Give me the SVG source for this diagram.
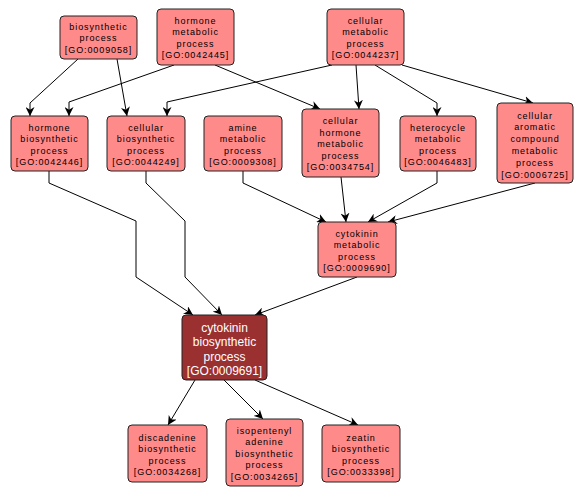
<svg xmlns="http://www.w3.org/2000/svg" width="587" height="497" viewBox="0 0 587 497">
<style>
.n rect{fill:#ff8a8a;stroke:#222;stroke-width:1}
.n text{font-family:"Liberation Sans",Arial,sans-serif;font-size:9px;letter-spacing:0.9px;fill:#000;text-anchor:middle}
.m rect{fill:#9a3030;stroke:#222;stroke-width:1}
.m text{font-family:"Liberation Sans",Arial,sans-serif;font-size:12px;fill:#fff;text-anchor:middle}
.e path{fill:none;stroke:#000;stroke-width:1;marker-end:url(#a)}
</style>
<defs>
<marker id="a" viewBox="0 0 10 10" refX="10" refY="5" markerWidth="9" markerHeight="9" markerUnits="userSpaceOnUse" orient="auto">
<path d="M0,0 L10,5 L0,10 L3,5 z" fill="#000"/>
</marker>
</defs>
<rect width="587" height="497" fill="#fff"/>
<g class="e" id="edges">
<path d="M78,59 L30,103 L30,116"/>
<path d="M117,59 L127,116"/>
<path d="M174,65 L69,102 L69,116"/>
<path d="M332,65 L167,102 L167,116"/>
<path d="M215,65 L320,109"/>
<path d="M356,65 L359,109"/>
<path d="M375,65 L437,103 L437,116"/>
<path d="M402,65 L533,103"/>
<path d="M49,171 L49,183 L136,221 L136,277 L193,315"/>
<path d="M146,171 L146,183 L185,221 L185,277 L222,315"/>
<path d="M243,171 L243,183 L326,222"/>
<path d="M341,177 L346,222"/>
<path d="M437,171 L437,183 L368,222"/>
<path d="M535,183 L388,222"/>
<path d="M357,277 L255,315"/>
<path d="M195,380 L168,425"/>
<path d="M224,380 L263,419"/>
<path d="M255,380 L358,425"/>
</g>
<g class="n" id="GO0009058">
<rect x="60" y="16" width="77" height="43" rx="4"/>
<text x="98.5" y="29.5">biosynthetic</text>
<text x="98.5" y="41">process</text>
<text x="98.5" y="52.5">[GO:0009058]</text>
</g>
<g class="n" id="GO0042445">
<rect x="157" y="9" width="77" height="56" rx="4"/>
<text x="195.5" y="23.5">hormone</text>
<text x="195.5" y="35">metabolic</text>
<text x="195.5" y="46.5">process</text>
<text x="195.5" y="58">[GO:0042445]</text>
</g>
<g class="n" id="GO0044237">
<rect x="327" y="9" width="77" height="56" rx="4"/>
<text x="365.5" y="23.5">cellular</text>
<text x="365.5" y="35">metabolic</text>
<text x="365.5" y="46.5">process</text>
<text x="365.5" y="58">[GO:0044237]</text>
</g>
<g class="n" id="GO0042446">
<rect x="11" y="116" width="77" height="55" rx="4"/>
<text x="49.5" y="130.5">hormone</text>
<text x="49.5" y="142">biosynthetic</text>
<text x="49.5" y="153.5">process</text>
<text x="49.5" y="165">[GO:0042446]</text>
</g>
<g class="n" id="GO0044249">
<rect x="107" y="116" width="78" height="55" rx="4"/>
<text x="146" y="130.5">cellular</text>
<text x="146" y="142">biosynthetic</text>
<text x="146" y="153.5">process</text>
<text x="146" y="165">[GO:0044249]</text>
</g>
<g class="n" id="GO0009308">
<rect x="204" y="116" width="78" height="55" rx="4"/>
<text x="243" y="130.5">amine</text>
<text x="243" y="142">metabolic</text>
<text x="243" y="153.5">process</text>
<text x="243" y="165">[GO:0009308]</text>
</g>
<g class="n" id="GO0034754">
<rect x="302" y="109" width="77" height="68" rx="4"/>
<text x="340.5" y="124">cellular</text>
<text x="340.5" y="135.5">hormone</text>
<text x="340.5" y="147">metabolic</text>
<text x="340.5" y="158.5">process</text>
<text x="340.5" y="170">[GO:0034754]</text>
</g>
<g class="n" id="GO0046483">
<rect x="400" y="116" width="76" height="55" rx="4"/>
<text x="438" y="130.5">heterocycle</text>
<text x="438" y="142">metabolic</text>
<text x="438" y="153.5">process</text>
<text x="438" y="165">[GO:0046483]</text>
</g>
<g class="n" id="GO0006725">
<rect x="497" y="103" width="76" height="80" rx="4"/>
<text x="535" y="118.5">cellular</text>
<text x="535" y="130.3">aromatic</text>
<text x="535" y="142.1">compound</text>
<text x="535" y="153.9">metabolic</text>
<text x="535" y="165.7">process</text>
<text x="535" y="177.5">[GO:0006725]</text>
</g>
<g class="n" id="GO0009690">
<rect x="318" y="222" width="78" height="55" rx="4"/>
<text x="357" y="236.5">cytokinin</text>
<text x="357" y="248">metabolic</text>
<text x="357" y="259.5">process</text>
<text x="357" y="271">[GO:0009690]</text>
</g>
<g class="m" id="GO0009691">
<rect x="182" y="315" width="85" height="65" rx="4"/>
<text x="224.5" y="331.5">cytokinin</text>
<text x="224.5" y="346">biosynthetic</text>
<text x="224.5" y="360.5">process</text>
<text x="224.5" y="375">[GO:0009691]</text>
</g>
<g class="n" id="GO0034268">
<rect x="128" y="425" width="79" height="57" rx="4"/>
<text x="167.5" y="440.5">discadenine</text>
<text x="167.5" y="452">biosynthetic</text>
<text x="167.5" y="463.5">process</text>
<text x="167.5" y="475">[GO:0034268]</text>
</g>
<g class="n" id="GO0034265">
<rect x="226" y="419" width="77" height="67" rx="4"/>
<text x="264.5" y="433.5">isopentenyl</text>
<text x="264.5" y="445">adenine</text>
<text x="264.5" y="456.5">biosynthetic</text>
<text x="264.5" y="468">process</text>
<text x="264.5" y="479.5">[GO:0034265]</text>
</g>
<g class="n" id="GO0033398">
<rect x="322" y="425" width="78" height="57" rx="4"/>
<text x="361" y="440.5">zeatin</text>
<text x="361" y="452">biosynthetic</text>
<text x="361" y="463.5">process</text>
<text x="361" y="475">[GO:0033398]</text>
</g>
</svg>
